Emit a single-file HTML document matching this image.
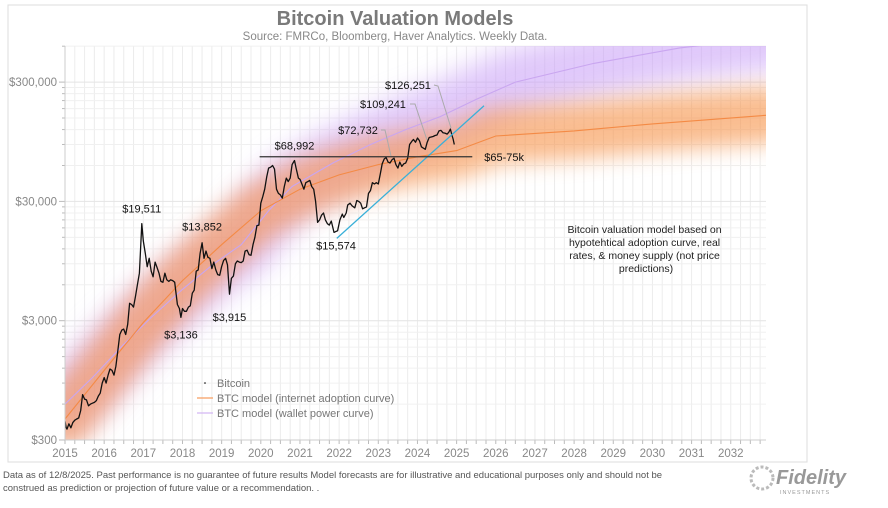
<!DOCTYPE html>
<html><head><meta charset="utf-8">
<style>
html,body{margin:0;padding:0;background:#fff;}
body{width:888px;height:503px;overflow:hidden;font-family:"Liberation Sans",Arial,sans-serif;}
svg text{font-family:"Liberation Sans",Arial,sans-serif;}
</style></head>
<body>
<svg id="chart" width="888" height="503" viewBox="0 0 888 503">
<defs>
<filter id="blurO" x="-20%" y="-50%" width="140%" height="200%"><feGaussianBlur stdDeviation="11"/></filter>
<filter id="blurP" x="-20%" y="-50%" width="140%" height="200%"><feGaussianBlur stdDeviation="13"/></filter>
<clipPath id="plotClip"><rect x="65" y="46" width="701" height="394"/></clipPath>
</defs>
<rect x="8" y="5" width="799" height="457" fill="#fff" stroke="#ddd"/>
<text x="395" y="25" text-anchor="middle" font-size="20" font-weight="bold" fill="#7a7a7a">Bitcoin Valuation Models</text>
<text x="395" y="40" text-anchor="middle" font-size="11.5" fill="#888">Source: FMRCo, Bloomberg, Haver Analytics. Weekly Data.</text>
<g id="grid"></g>
<g id="bands" clip-path="url(#plotClip)"></g>
<g id="series" clip-path="url(#plotClip)"></g>
<g id="axes"></g>
<g id="annos"></g>
<g>
<g><circle cx="205" cy="383" r="0.8" fill="#000"/><text x="217" y="387" font-size="11" fill="#777">Bitcoin</text></g>
<g><line x1="197" y1="398" x2="213" y2="398" stroke="#f79a5a" stroke-width="1.2"/><text x="217" y="402" font-size="11" fill="#777">BTC model (internet adoption curve)</text></g>
<g><line x1="197" y1="413" x2="213" y2="413" stroke="#d2b4f3" stroke-width="1.2"/><text x="217" y="417" font-size="11" fill="#777">BTC model (wallet power curve)</text></g>
</g>
<text font-size="10.5" fill="#222" text-anchor="middle">
<tspan x="646" y="233">Bitcoin valuation model based on</tspan>
<tspan x="646" y="246">hypotehtical adoption curve, real</tspan>
<tspan x="646" y="259">rates, &amp; money supply (not price</tspan>
<tspan x="646" y="272">predictions)</tspan>
</text>
<text font-size="9.5" fill="#555">
<tspan x="3" y="478">Data as of 12/8/2025. Past performance is no guarantee of future results Model forecasts are for illustrative and educational purposes only and should not be</tspan>
<tspan x="3" y="491">construed as prediction or projection of future value or a recommendation. .</tspan>
</text>
<g>
<circle cx="762" cy="478" r="11" fill="none" stroke="#bbb" stroke-width="3" stroke-dasharray="3 2"/>
<text x="776" y="484" font-size="20" font-weight="bold" font-style="italic" fill="#999">Fidelity</text>
<text x="780" y="494" font-size="5.5" fill="#999" letter-spacing="1">INVESTMENTS</text>
</g>
</svg>
<script>
// ---- data ----
const tickLabels=["2015","2016","2017","2018","2019","2020","2021","2022","2023","2024","2025","2026","2027","2028","2029","2030","2031","2032"];
const tickYears=[2016,2017,2018,2019,2020,2021,2022,2023,2024,2025,2026,2027,2028,2029,2030,2031,2032,2033];
const yTickValues=[300,3000,30000,300000];
const yTickLabels=["$300","$3,000","$30,000","$300,000"];
const btcDates=[2016.0,2016.03,2016.05,2016.1,2016.15,2016.2,2016.25,2016.3,2016.35,2016.4,2016.45,2016.5,2016.55,2016.6,2016.65,2016.7,2016.75,2016.8,2016.85,2016.9,2016.95,2017.0,2017.05,2017.1,2017.15,2017.2,2017.25,2017.3,2017.35,2017.4,2017.45,2017.5,2017.55,2017.6,2017.65,2017.7,2017.75,2017.8,2017.85,2017.9,2017.96,2018.0,2018.05,2018.1,2018.15,2018.2,2018.25,2018.3,2018.35,2018.4,2018.45,2018.5,2018.55,2018.6,2018.65,2018.7,2018.75,2018.8,2018.87,2018.92,2018.96,2019.0,2019.05,2019.1,2019.15,2019.2,2019.25,2019.3,2019.35,2019.4,2019.45,2019.5,2019.55,2019.6,2019.65,2019.7,2019.75,2019.8,2019.85,2019.9,2019.95,2020.0,2020.05,2020.1,2020.15,2020.2,2020.25,2020.3,2020.35,2020.4,2020.45,2020.5,2020.55,2020.6,2020.65,2020.7,2020.75,2020.8,2020.85,2020.9,2020.95,2021.0,2021.05,2021.1,2021.15,2021.2,2021.25,2021.3,2021.35,2021.4,2021.45,2021.5,2021.55,2021.6,2021.65,2021.7,2021.75,2021.8,2021.86,2021.9,2021.96,2022.0,2022.05,2022.1,2022.15,2022.2,2022.25,2022.3,2022.35,2022.4,2022.45,2022.5,2022.55,2022.6,2022.65,2022.7,2022.75,2022.8,2022.87,2022.92,2022.96,2023.02,2023.08,2023.12,2023.18,2023.22,2023.28,2023.33,2023.4,2023.45,2023.5,2023.55,2023.6,2023.65,2023.7,2023.75,2023.8,2023.85,2023.9,2023.95,2024.0,2024.05,2024.1,2024.15,2024.2,2024.25,2024.3,2024.35,2024.4,2024.45,2024.5,2024.55,2024.6,2024.65,2024.7,2024.75,2024.8,2024.86,2024.9,2024.95,2025.0,2025.05,2025.1,2025.15,2025.2,2025.25,2025.3,2025.35,2025.4,2025.45,2025.5,2025.55,2025.6,2025.65,2025.7,2025.76,2025.8,2025.84,2025.88,2025.91,2025.94];
const btcPrices=[430,380,370,410,380,420,440,450,460,530,720,660,650,580,600,610,620,640,700,740,900,1000,900,1050,1180,1150,1050,1250,1700,2300,2500,2550,2300,2800,4200,4100,3900,4800,6000,7500,19500,14000,11000,8500,10000,7800,7000,9300,8400,7500,6400,6300,7500,6600,6400,6600,6500,6300,4100,3800,3200,3800,3600,3600,3900,4000,5100,5400,7800,8000,11000,13500,10000,11500,10200,10000,8200,9300,8000,7300,7200,8500,9600,10000,8800,5000,6800,7100,9000,9500,9300,9200,9500,11500,11700,10700,10600,13000,15000,18800,19000,29000,33000,38000,48000,57000,58000,60000,56000,38000,35000,34000,32000,40000,47000,44000,47000,61000,66000,57000,47000,46000,42000,38000,43000,44000,45000,40000,38000,30000,20000,21000,23000,24000,21000,19500,19000,20500,16500,16800,17000,21000,23500,22000,24000,28000,29000,27500,26500,30500,30000,29000,26000,26500,27000,35000,37000,43000,42000,43000,42000,51000,62000,68000,70000,64000,63000,67000,69000,61000,57000,64000,59000,62000,63000,69000,90000,96000,99000,94000,102000,97000,86000,84000,82000,94000,103000,104000,105000,107000,108000,117000,118000,113000,112000,110000,114000,121000,108000,100000,90000,88000];
const adoptDates=[2016,2017,2018,2019,2020,2021,2022,2023,2024,2025,2026,2027,2029,2031,2033.9];
const adoptValues=[450,1150,2900,6500,13000,25000,38000,50000,61000,71000,80000,106000,117000,134000,158000];
const walletDates=[2016,2016.7,2017.5,2018.2,2019,2019.8,2020.5,2021.2,2021.8,2022.84,2023.8,2024.7,2025.58,2026.5,2027.5,2029.5,2031.7,2033.9];
const walletValues=[600,1000,1900,3200,5500,9000,13000,25000,40000,63000,90000,120000,154000,215000,300000,430000,580000,700000];
const trendDates=[2022.94,2026.7];
const trendValues=[14700,190000];
const rangeDates=[2020.97,2026.4];
const rangeValue=71000;
const peakLabels=[
 {t:2017.96,v:19511,text:"$19,511",dy:-11},
 {t:2019.5,v:13852,text:"$13,852",dy:-11},
 {t:2018.96,v:3136,text:"$3,136",dy:20},
 {t:2020.2,v:3915,text:"$3,915",dy:14},
 {t:2021.86,v:68992,text:"$68,992",dy:-9},
 {t:2022.92,v:15574,text:"$15,574",dy:14}
];
// ---- scales ----
const X0=65,X1=766,T0=2016,T1=2033.9,YB=440,PX_DEC=119.3;
function xs(t){return X0+(t-T0)*(X1-X0)/(T1-T0);}
function ys(v){return YB-Math.log10(v/300)*PX_DEC;}
const NS="http://www.w3.org/2000/svg";
function mk(tag,attrs,parent){const e=document.createElementNS(NS,tag);for(const k in attrs)e.setAttribute(k,attrs[k]);parent.appendChild(e);return e;}
function pathD(ts,vs){return ts.map((t,i)=>(i?"L":"M")+xs(t).toFixed(1)+","+ys(vs[i]).toFixed(1)).join("");}
const grid=document.getElementById("grid"),axes=document.getElementById("axes"),bands=document.getElementById("bands"),series=document.getElementById("series"),annos=document.getElementById("annos");
for(let t=T0;t<=T1+0.01;t+=0.25){
 const l=mk("line",{x1:xs(t),x2:xs(t),y1:46,y2:440,stroke:"#ececec","stroke-width":1},grid);
 
 
 mk("line",{x1:xs(t),x2:xs(t),y1:440,y2:444,stroke:"#bbb","stroke-width":1},axes);
}
for(let d=300;d<=300000;d*=10){
 for(let m=1;m<10;m++){
  const v=d*m;const y=ys(v);if(y<46)continue;
  const l=mk("line",{x1:65,x2:766,y1:y,y2:y,stroke:m===1?"#e4e4e4":"#f0f0f0","stroke-width":1},grid);
  
  
  mk("line",{x1:m===1?59:62,x2:65,y1:y,y2:y,stroke:"#bbb","stroke-width":1},axes);
 }
}
mk("line",{x1:65,x2:65,y1:46,y2:440,stroke:"#ccc"},axes);
mk("line",{x1:65,x2:766,y1:440,y2:440,stroke:"#ccc"},axes);
yTickValues.forEach((v,i)=>{
 const tx=mk("text",{x:57,y:ys(v)+4,"text-anchor":"end","font-size":11.5,fill:"#888"},axes);
 tx.textContent=yTickLabels[i];
 
 
});
tickYears.forEach((t,i)=>{
 const tx=mk("text",{x:xs(t),y:457,"text-anchor":"middle","font-size":11.5,fill:"#888"},axes);
 tx.textContent=tickLabels[i];
 
 
});
const pb=mk("path",{d:pathD(walletDates,walletValues),fill:"none",stroke:"#c79cf7","stroke-width":66,"stroke-linecap":"round",opacity:0.55,filter:"url(#blurP)"},bands);


const ob=mk("path",{d:pathD(adoptDates,adoptValues),fill:"none",stroke:"#f79247","stroke-width":56,"stroke-linecap":"round",opacity:0.6,filter:"url(#blurO)"},bands);


const wl=mk("path",{d:pathD(walletDates,walletValues),fill:"none",stroke:"#c9a6f0","stroke-width":1.1},series);


const al=mk("path",{d:pathD(adoptDates,adoptValues),fill:"none",stroke:"#f48a45","stroke-width":1.1},series);


const bl=mk("path",{d:pathD(btcDates,btcPrices),fill:"none",stroke:"#111","stroke-width":1.3,"stroke-linejoin":"round"},series);


const tl=mk("line",{x1:xs(trendDates[0]),y1:ys(trendValues[0]),x2:xs(trendDates[1]),y2:ys(trendValues[1]),stroke:"#3ab0d8","stroke-width":1.3},annos);


const rl=mk("line",{x1:xs(rangeDates[0]),y1:ys(rangeValue),x2:xs(rangeDates[1]),y2:ys(rangeValue),stroke:"#333","stroke-width":1.2},annos);


const rt=mk("text",{x:xs(rangeDates[1])+12,y:ys(rangeValue)+4,"font-size":11,fill:"#111"},annos);
rt.textContent="$65-75k";


peakLabels.forEach(p=>{
 const tx=mk("text",{x:xs(p.t),y:ys(p.v)+p.dy,"text-anchor":"middle","font-size":11,fill:"#111"},annos);
 tx.textContent=p.text;
 
 
});
[[2024.25,72732,"$72,732",358,134,[[381,130],[385,130],[391,156]]],
 [2025.05,109241,"$109,241",383,108,[[410,104],[415,104],[427,140]]],
 [2025.78,126251,"$126,251",408,89,[[434,85],[438,86],[451,128]]]].forEach(a=>{
 const tx=mk("text",{x:a[3],y:a[4],"text-anchor":"middle","font-size":11,fill:"#111"},annos);
 tx.textContent=a[2];
 
 
 const pl=mk("polyline",{points:a[5].map(p=>p.join(",")).join(" "),fill:"none",stroke:"#aaa","stroke-width":1},annos);
 
 
});
</script>
</body></html>
